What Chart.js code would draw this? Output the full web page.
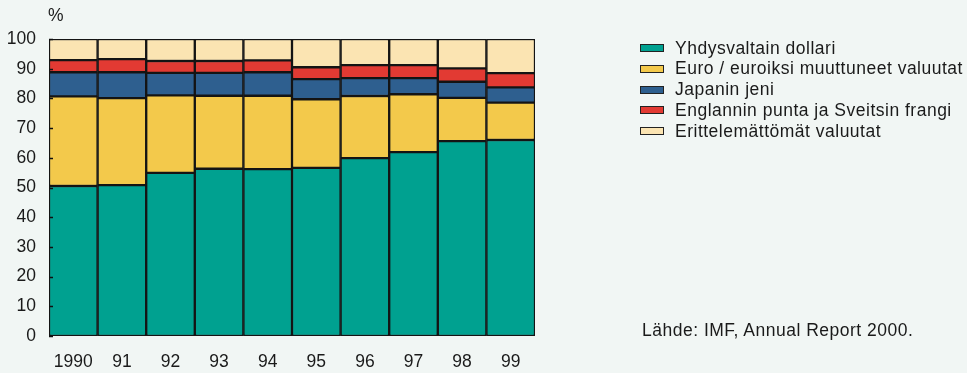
<!DOCTYPE html>
<html lang="fi">
<head>
<meta charset="utf-8">
<title>Valuuttavarannot valuutoittain 1990–1999</title>
<script src="https://cdn.jsdelivr.net/npm/chart.js@4/dist/chart.umd.min.js"></script>
<style>
  html, body { margin: 0; padding: 0; background: #f1f6f4; }
  body { width: 967px; height: 373px; position: relative; overflow: hidden;
         font-family: 'Liberation Sans', Arial, Helvetica, sans-serif; color: #1a1a1a; }
  #chart { position: absolute; left: 0; top: 0; }
  .unit { position: absolute; left: 48px; top: 5px; font-size: 17.5px; }
  .legend { position: absolute; left: 640px; top: 37.6px; font-size: 17.5px; letter-spacing: 0.5px; }
  .legend .item { height: 20.8px; display: flex; align-items: center; white-space: nowrap; }
  .legend .box { width: 22px; height: 6px; border: 1px solid #222; margin-right: 11px; flex: none; }
  .source { position: absolute; left: 642px; top: 320px; font-size: 17.5px; letter-spacing: 0.5px;
            line-height: 21px; }
</style>
</head>
<body>
<canvas id="chart" width="967" height="373"></canvas>
<div class="unit">%</div>
<div class="legend" id="legend"></div>
<div class="source">Lähde: IMF, Annual Report 2000.</div>

<script>
// ── Data (osuudet, %) ──────────────────────────────────────
const years = ['1990', '91', '92', '93', '94', '95', '96', '97', '98', '99'];

const usd     = [50.5, 50.8, 54.9, 56.3, 56.2, 56.6, 59.9, 61.9, 65.6, 66.0];
const euro    = [30.2, 29.3, 26.1, 24.6, 24.7, 23.1, 20.9, 19.5, 14.6, 12.6];
const yen     = [ 8.1,  8.7,  7.6,  7.7,  7.9,  6.8,  6.0,  5.4,  5.4,  5.1];
const gbpChf  = [ 4.1,  4.4,  4.0,  4.0,  4.0,  4.0,  4.4,  4.4,  4.5,  4.8];
const other   = [ 7.1,  6.8,  7.4,  7.4,  7.2,  9.5,  8.8,  8.8,  9.9, 11.5];

const seriesLabels = [
  'Yhdysvaltain dollari',
  'Euro / euroiksi muuttuneet valuutat',
  'Japanin jeni',
  'Englannin punta ja Sveitsin frangi',
  'Erittelemättömät valuutat',
];
const yTicks = [0, 10, 20, 30, 40, 50, 60, 70, 80, 90, 100];

const COLORS = ['#00a190', '#f3c94b', '#2e5f8f', '#e23a33', '#fbe4b2'];
const FONT = "'Liberation Sans', Arial, Helvetica, sans-serif";

// ── Legend ────────────────────────────────────────────────
const legendEl = document.getElementById('legend');
seriesLabels.forEach((label, i) => {
  const item = document.createElement('div');
  item.className = 'item';
  item.innerHTML = `<span class="box" style="background:${COLORS[i]}"></span><span>${label}</span>`;
  legendEl.appendChild(item);
});

// small tick marks on the inside of the value axis
const innerTicks = {
  id: 'innerTicks',
  afterDatasetsDraw(chart) {
    const { ctx, chartArea, scales } = chart;
    ctx.save();
    ctx.strokeStyle = '#111';
    ctx.lineWidth = 1.5;
    yTicks.forEach((v) => {
      const y = Math.round(scales.y.getPixelForValue(v)) + 0.5;
      ctx.beginPath();
      ctx.moveTo(chartArea.left, y);
      ctx.lineTo(chartArea.left + 4, y);
      ctx.stroke();
    });
    ctx.restore();
  },
};

const series = [usd, euro, yen, gbpChf, other];

new Chart(document.getElementById('chart'), {
  type: 'bar',
  data: {
    labels: years,
    datasets: series.map((data, i) => ({
      label: seriesLabels[i],
      data,
      backgroundColor: COLORS[i],
      borderColor: '#141414',
      borderWidth: 1.5,
      borderSkipped: false,
      barPercentage: 1,
      categoryPercentage: 1,
    })),
  },
  options: {
    responsive: false,
    animation: false,
    layout: { padding: { top: 39, right: 432, left: 0, bottom: 0 } },
    plugins: { legend: { display: false }, tooltip: { enabled: false } },
    scales: {
      x: {
        stacked: true,
        grid: { display: false, drawTicks: false },
        border: { display: false },
        ticks: { color: '#1a1a1a', font: { family: FONT, size: 17.5 }, padding: 16, maxRotation: 0 },
        afterFit(scale) { scale.height = 37; },
      },
      y: {
        stacked: true,
        min: 0,
        max: 100,
        grid: { display: false, drawTicks: false },
        border: { display: false },
        afterBuildTicks(scale) { scale.ticks = yTicks.map((v) => ({ value: v })); },
        ticks: { color: '#1a1a1a', font: { family: FONT, size: 17.5 }, padding: 13 },
        afterFit(scale) { scale.width = 49; },
      },
    },
  },
  plugins: [innerTicks],
});
</script>
</body>
</html>
